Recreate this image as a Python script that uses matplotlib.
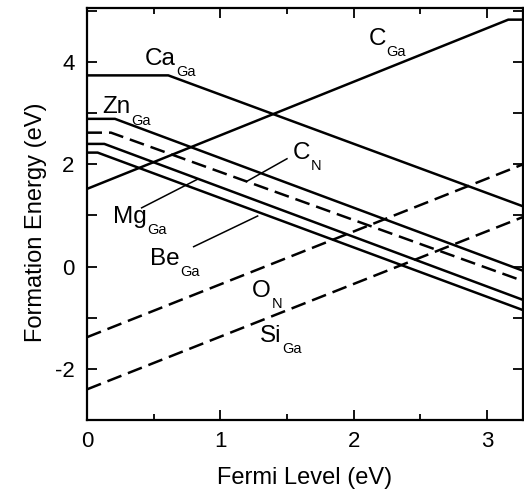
import matplotlib
matplotlib.use('Agg')
from matplotlib import pyplot as plt
from matplotlib.ticker import MultipleLocator, FuncFormatter

plt.rcParams['font.family'] = ['Liberation Sans', 'DejaVu Sans']

# formation energy vs fermi level, piecewise lines (eV)
x_max = 3.27

c_ga_x = [0, 3.16, x_max]
c_ga_y = [1.52, 4.83, 4.83]

ca_ga_x = [0, 0.61, x_max]
ca_ga_y = [3.74, 3.74, 1.18]

zn_ga_x = [0, 0.21, x_max]
zn_ga_y = [2.89, 2.89, -0.08]

c_n_x = [0, 0.18, x_max]
c_n_y = [2.62, 2.62, -0.28]

mg_ga_x = [0, 0.13, x_max]
mg_ga_y = [2.40, 2.40, -0.65]

be_ga_x = [0, 0.08, x_max]
be_ga_y = [2.23, 2.23, -0.85]

o_n_x = [0, x_max]
o_n_y = [-1.38, 2.0]

si_ga_x = [0, x_max]
si_ga_y = [-2.40, 0.97]

fig = plt.figure(figsize=(5.24, 4.93), dpi=100)
ax = fig.add_axes([0.166, 0.148, 0.832, 0.836])

lw = 1.8
dash = (6, 2.8)
ax.plot(c_ga_x, c_ga_y, color='black', lw=lw)
ax.plot(ca_ga_x, ca_ga_y, color='black', lw=lw)
ax.plot(zn_ga_x, zn_ga_y, color='black', lw=lw)
ax.plot(c_n_x, c_n_y, color='black', lw=lw, dashes=dash)
ax.plot(mg_ga_x, mg_ga_y, color='black', lw=lw)
ax.plot(be_ga_x, be_ga_y, color='black', lw=lw)
ax.plot(o_n_x, o_n_y, color='black', lw=lw, dashes=dash)
ax.plot(si_ga_x, si_ga_y, color='black', lw=lw, dashes=dash)

# leader lines for labels
ax.plot([1.50, 1.20], [2.11, 1.67], color='black', lw=1.1)
ax.plot([0.41, 0.83], [1.15, 1.71], color='black', lw=1.1)
ax.plot([0.80, 1.28], [0.39, 0.99], color='black', lw=1.1)


def label(x, y, main, sub):
    t = ax.text(x, y, main, fontsize=17.5, ha='left', va='baseline')
    ax.annotate(sub, xy=(1, 0), xycoords=t, xytext=(0.5, 3.5),
                textcoords='offset points', fontsize=10.5, ha='left', va='top')


label(2.11, 4.34, 'C', 'Ga')
label(0.435, 3.94, 'Ca', 'Ga')
label(0.113, 2.995, 'Zn', 'Ga')
label(1.54, 2.11, 'C', 'N')
label(0.195, 0.85, 'Mg', 'Ga')
label(0.47, 0.04, 'Be', 'Ga')
label(1.24, -0.59, 'O', 'N')
label(1.30, -1.48, 'Si', 'Ga')

ax.set_xlim(0, x_max)
ax.set_ylim(-3, 5.06)
ax.xaxis.set_major_locator(MultipleLocator(1))
ax.xaxis.set_minor_locator(MultipleLocator(0.5))
ax.yaxis.set_major_locator(MultipleLocator(1))
ax.yaxis.set_major_formatter(FuncFormatter(lambda v, p: '%d' % v if int(round(v)) % 2 == 0 else ''))
ax.tick_params(which='both', direction='in', top=True, right=True, width=1.3)
ax.tick_params(which='major', length=7, labelsize=16)
ax.tick_params(which='minor', length=4)
ax.tick_params(axis='x', pad=8)
ax.tick_params(axis='y', pad=9)
for s in ax.spines.values():
    s.set_linewidth(1.6)

ax.set_xlabel('Fermi Level (eV)', fontsize=17, labelpad=11)
ax.set_ylabel('Formation Energy (eV)', fontsize=17)
ax.yaxis.set_label_coords(-0.092, 0.48)

fig.savefig('out.png', dpi=100)
